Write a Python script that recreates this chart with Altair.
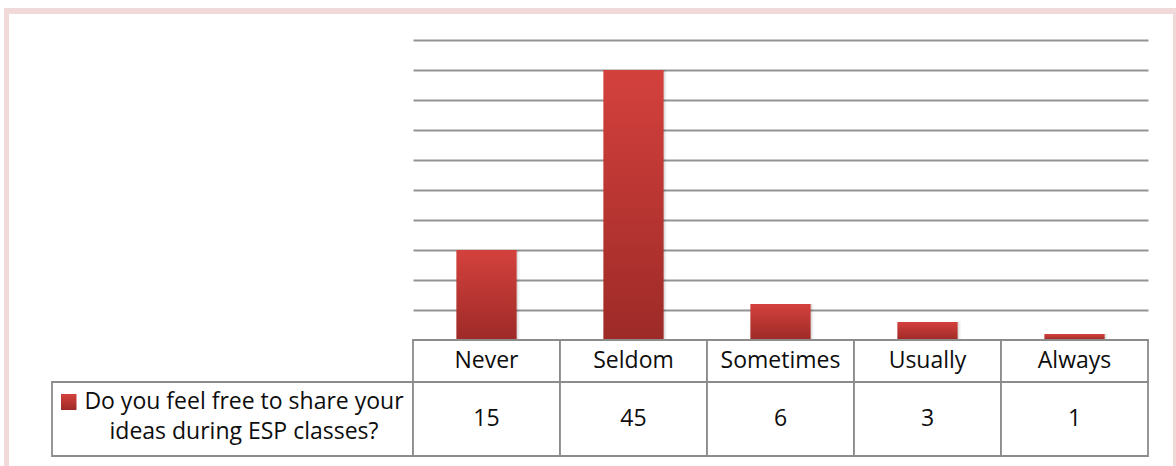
import altair as alt
import pandas as pd

# Survey answers and counts
categories = ["Never", "Seldom", "Sometimes", "Usually", "Always"]
responses = [15, 45, 6, 3, 1]
series_name = ["Do you feel free to share your", "ideas during ESP classes?"]
grid_values = [0, 5, 10, 15, 20, 25, 30, 35, 40, 45, 50]

df = pd.DataFrame({"answer": categories, "count": responses})
one = pd.DataFrame({"k": [0]})

FONT = "Open Sans"
FONT_SIZE = 23
TEXT = "#0d0d0d"
LINE = "#8c8c8c"
GRID = "#939393"
FRAME = "#f2d9d9"

LABEL_W = 361   # series-name column of the data table
PLOT_W = 735
PLOT_H = 300
HEAD_H = 42
ROW_H = 74

# page position of the plot area's top-left corner (used for the outer frame)
ORIGIN_X = 413
ORIGIN_Y = 40

bar_fill = alt.Gradient(
    gradient="linear", x1=0, y1=0, x2=0, y2=1,
    stops=[alt.GradientStop(color="#d4413d", offset=0),
           alt.GradientStop(color="#9d2a27", offset=1)],
)

x_band = alt.X(
    "answer:N", sort=categories,
    scale=alt.Scale(domain=categories, paddingInner=0, paddingOuter=0),
    axis=None,
)
y_count = alt.Y(
    "count:Q",
    scale=alt.Scale(domain=[0, 50], nice=False),
    axis=alt.Axis(values=grid_values, grid=True, gridColor=GRID, gridWidth=2,
                  labels=False, ticks=False, domain=False, title=None),
)

bar_w = alt.RelativeBandSize(0.41)

shadow1 = alt.Chart(df).mark_bar(width=bar_w, color="#000000", opacity=0.08, xOffset=1.5).encode(
    x=x_band, y=y_count)
shadow2 = alt.Chart(df).mark_bar(width=bar_w, color="#000000", opacity=0.05, xOffset=3).encode(
    x=x_band, y=y_count)
bars = alt.Chart(df).mark_bar(width=bar_w, color=bar_fill).encode(x=x_band, y=y_count)


def frame_edge(x0, x1, y0, y1):
    return alt.Chart(one).mark_rect(color=FRAME).encode(
        x=alt.value(x0 - ORIGIN_X), x2=alt.value(x1 - ORIGIN_X),
        y=alt.value(y0 - ORIGIN_Y), y2=alt.value(y1 - ORIGIN_Y),
    )


frame = [
    frame_edge(4, 9, 8, 466),
    frame_edge(4, 1176, 8, 14),
    frame_edge(1173, 1176, 8, 466),
]

bar_panel = alt.layer(shadow1, shadow2, bars, *frame).properties(width=PLOT_W, height=PLOT_H)

cell_rect = dict(fill="white", stroke=LINE, strokeWidth=1.8)
text_style = dict(font=FONT, fontSize=FONT_SIZE, color=TEXT)

header_panel = alt.layer(
    alt.Chart(df).mark_rect(**cell_rect).encode(x=x_band),
    alt.Chart(df).mark_text(**text_style).encode(x=x_band, text="answer:N"),
).properties(width=PLOT_W, height=HEAD_H)

value_panel = alt.layer(
    alt.Chart(df).mark_rect(**cell_rect).encode(x=x_band),
    alt.Chart(df).mark_text(**text_style).encode(x=x_band, text="count:Q"),
).properties(width=PLOT_W, height=ROW_H)

label_panel = alt.layer(
    alt.Chart(one).mark_rect(**cell_rect).encode(opacity=alt.value(1)),
    alt.Chart(one).mark_rect(fill=bar_fill).encode(
        x=alt.value(9), x2=alt.value(24.5), y=alt.value(12), y2=alt.value(28)),
    alt.Chart(one).mark_text(align="center", baseline="alphabetic", lineHeight=30, **text_style).encode(
        x=alt.value(192), y=alt.value(27), text=alt.value(series_name)),
).properties(width=LABEL_W, height=ROW_H)


def blank(h):
    return alt.Chart(one).mark_rect(opacity=0).encode(color=alt.value("white")).properties(
        width=LABEL_W, height=h)


chart = alt.concat(
    blank(PLOT_H), bar_panel,
    blank(HEAD_H), header_panel,
    label_panel, value_panel,
    columns=2, spacing=0, bounds="flush", align="each",
).properties(
    padding={"left": 4, "top": 8, "right": 0, "bottom": 0},
    background="white",
).configure_view(strokeWidth=0)

chart.save("out.html", embed_options={"renderer": "svg", "actions": False})
